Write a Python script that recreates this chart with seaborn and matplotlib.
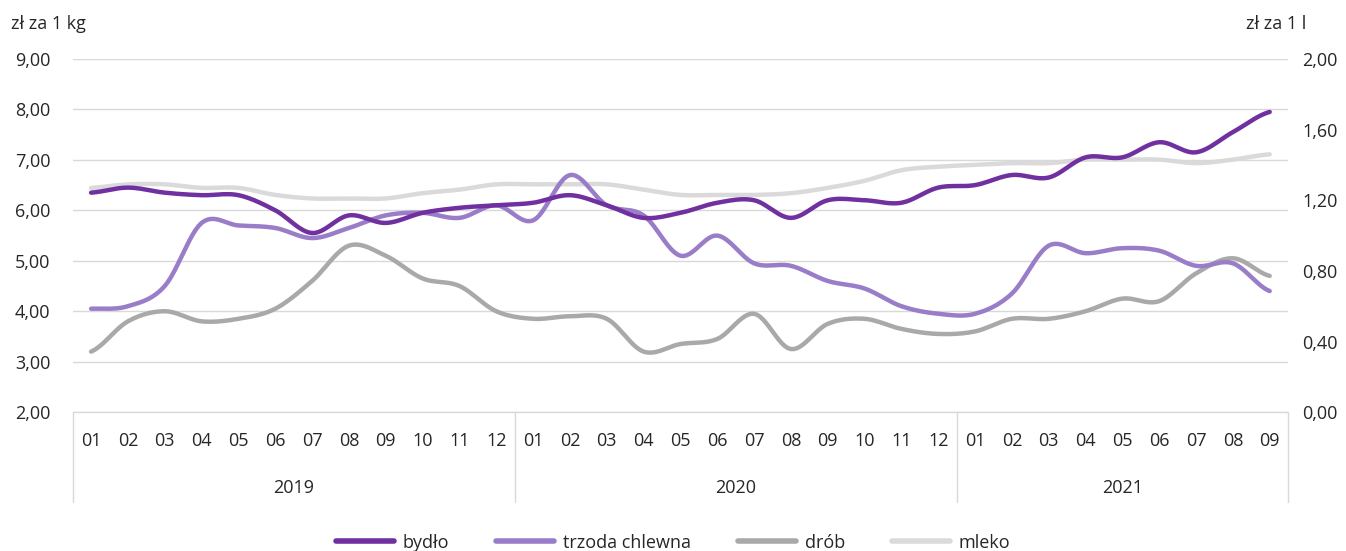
import numpy as np
import pandas as pd
import matplotlib
matplotlib.use("Agg")
import matplotlib.pyplot as plt
import matplotlib.transforms as mtransforms
import seaborn as sns

# ---------------------------------------------------------------------------
# Data
# ---------------------------------------------------------------------------
years = ["2019", "2020", "2021"]
months_per_year = [12, 12, 9]
month_labels = [f"{m:02d}" for n in months_per_year for m in range(1, n + 1)]

bydlo = [6.35, 6.45, 6.35, 6.30, 6.30, 6.00, 5.55, 5.90, 5.75, 5.95, 6.05, 6.10,
         6.15, 6.30, 6.10, 5.85, 5.95, 6.15, 6.20, 5.85, 6.20, 6.20, 6.15, 6.45,
         6.50, 6.70, 6.65, 7.05, 7.05, 7.35, 7.15, 7.55, 7.95]
trzoda = [4.05, 4.10, 4.50, 5.75, 5.70, 5.65, 5.45, 5.65, 5.90, 5.95, 5.85, 6.10,
          5.80, 6.70, 6.10, 5.90, 5.10, 5.50, 4.95, 4.90, 4.60, 4.45, 4.10, 3.95,
          3.95, 4.35, 5.30, 5.15, 5.25, 5.20, 4.90, 4.95, 4.40]
drob = [3.20, 3.80, 4.00, 3.80, 3.85, 4.05, 4.60, 5.30, 5.10, 4.65, 4.50, 4.00,
        3.85, 3.90, 3.85, 3.20, 3.35, 3.45, 3.95, 3.25, 3.75, 3.85, 3.65, 3.55,
        3.60, 3.85, 3.85, 4.00, 4.25, 4.20, 4.75, 5.05, 4.70]
# mleko is on the right axis (zł za 1 l)
mleko = [1.27, 1.29, 1.29, 1.27, 1.27, 1.23, 1.21, 1.21, 1.21, 1.24, 1.26, 1.29,
         1.29, 1.29, 1.29, 1.26, 1.23, 1.23, 1.23, 1.24, 1.27, 1.31, 1.37, 1.39,
         1.40, 1.41, 1.41, 1.43, 1.43, 1.43, 1.41, 1.43, 1.46]

series_names = ["bydło", "trzoda chlewna", "drób", "mleko"]
colors = {"bydło": "#7030A0", "trzoda chlewna": "#9A7DC8",
          "drób": "#A9A9A9", "mleko": "#DADADA"}


def smooth(y, steps=12):
    """Catmull-Rom smoothing, like Excel's smoothed line."""
    y = np.asarray(y, dtype=float)
    p = np.concatenate([[y[0]], y, [y[-1]]])
    xs, ys = [], []
    for i in range(len(y) - 1):
        p0, p1, p2, p3 = p[i], p[i + 1], p[i + 2], p[i + 3]
        t = np.linspace(0, 1, steps, endpoint=False)
        v = 0.5 * ((2 * p1) + (-p0 + p2) * t + (2 * p0 - 5 * p1 + 4 * p2 - p3) * t ** 2
                   + (-p0 + 3 * p1 - 3 * p2 + p3) * t ** 3)
        xs.extend(i + t)
        ys.extend(v)
    xs.append(len(y) - 1)
    ys.append(y[-1])
    return np.array(xs), np.array(ys)


frames = []
for name, vals in zip(series_names, [bydlo, trzoda, drob, mleko]):
    sx, sy = smooth(vals)
    frames.append(pd.DataFrame({"x": sx, "value": sy, "series": name}))
df = pd.concat(frames, ignore_index=True)

# ---------------------------------------------------------------------------
# Plot
# ---------------------------------------------------------------------------
sns.set_theme(style="white")
plt.rcParams["font.family"] = ["Open Sans", "DejaVu Sans"]
text_color = "#262626"
grid_color = "#D9D9D9"
fs = 13

fig = plt.figure(figsize=(13.46, 5.51), dpi=100)
ax = fig.add_axes([0.054, 0.252, 0.903, 0.641])
ax2 = ax.twinx()

# draw mleko first so it sits under the others
sns.lineplot(data=df[df.series == "mleko"], x="x", y="value", ax=ax2,
             color=colors["mleko"], lw=3.2, legend=False, sort=False)
for name in ["drób", "trzoda chlewna", "bydło"]:
    sns.lineplot(data=df[df.series == name], x="x", y="value", ax=ax,
                 color=colors[name], lw=3.2, legend=False, sort=False)

ax.set_zorder(ax2.get_zorder() + 1)
ax.patch.set_visible(False)

n = len(month_labels)
ax.set_xlim(-0.5, n - 0.5)
ax.set_ylim(2, 9)
ax2.set_ylim(0, 2)
ax.set_yticks(np.arange(2, 9.01, 1))
ax.set_yticklabels([f"{v:.2f}".replace(".", ",") for v in np.arange(2, 9.01, 1)])
ax2.set_yticks(np.arange(0, 2.01, 0.4))
ax2.set_yticklabels([f"{v:.2f}".replace(".", ",") for v in np.arange(0, 2.01, 0.4)])

ax.grid(axis="y", color=grid_color, lw=1)
ax.set_xlabel("")
ax.set_ylabel("")
ax2.set_ylabel("")
for a in (ax, ax2):
    for s in a.spines.values():
        s.set_visible(False)
    a.tick_params(axis="both", length=0, labelsize=fs, colors=text_color)
ax.tick_params(axis="y", pad=16)
ax2.tick_params(axis="y", pad=10)

ax.set_xticks(range(n))
ax.set_xticklabels(month_labels)
ax.tick_params(axis="x", pad=14)

# category axis: bottom line, year separators and year labels
trans = mtransforms.blended_transform_factory(ax.transData, ax.transAxes)
ax.plot([-0.5, n - 0.5], [0, 0], transform=trans, color=grid_color, lw=1, clip_on=False)
start = 0
for yr, cnt in zip(years, months_per_year):
    ax.text(start + (cnt - 1) / 2, -0.215, yr, transform=trans, ha="center", va="center",
            fontsize=fs, color=text_color)
    start += cnt
bounds = np.concatenate([[0], np.cumsum(months_per_year)]) - 0.5
for b in bounds:
    ax.plot([b, b], [0, -0.255], transform=trans, color=grid_color, lw=1, clip_on=False)

fig.text(0.008, 0.957, "zł za 1 kg", fontsize=fs, color=text_color, ha="left", va="center")
fig.text(0.926, 0.957, "zł za 1 l", fontsize=fs, color=text_color, ha="left", va="center")

handles = [plt.Line2D([], [], color=colors[s], lw=4) for s in series_names]
fig.legend(handles, series_names, loc="center", bbox_to_anchor=(0.5, 0.015), ncol=4,
           frameon=False, fontsize=fs, handlelength=3.2, handletextpad=0.5,
           columnspacing=2.6, labelcolor=text_color)

fig.savefig("out.png", dpi=100)
